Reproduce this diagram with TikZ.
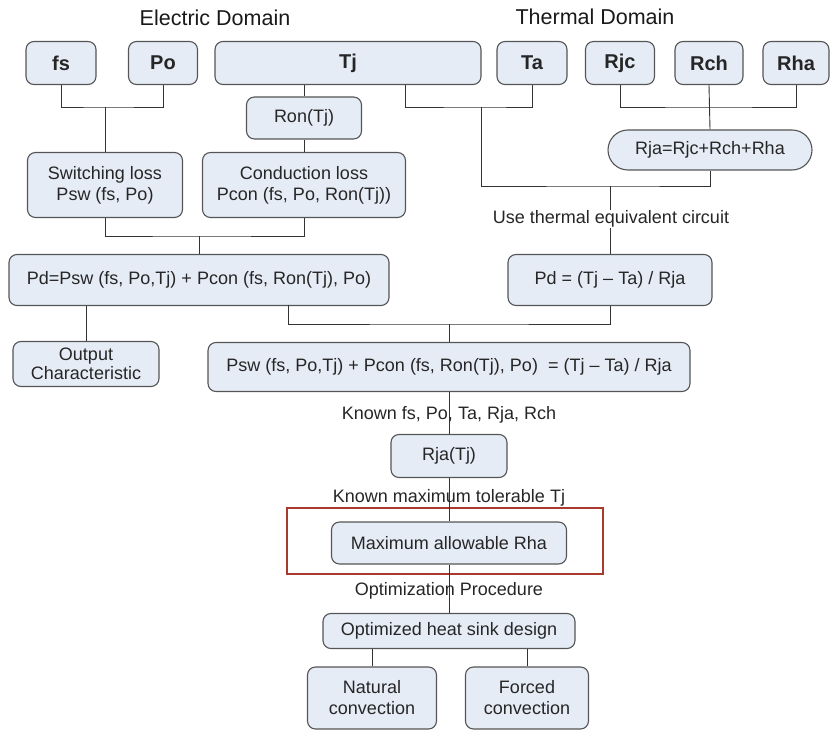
\documentclass[tikz,border=0pt]{standalone}
\usepackage{fontspec}
\setmainfont{Liberation Sans}
\usetikzlibrary{positioning}
\definecolor{boxfill}{HTML}{E6ECF6}
\definecolor{boxline}{HTML}{555555}
\definecolor{hlred}{HTML}{A83A2E}

\begin{document}
\begin{tikzpicture}[
  x=1pt, y=-1pt,
  box/.style={draw=boxline, fill=boxfill, rounded corners=8pt, line width=1.1pt,
              inner sep=0pt, align=center, font=\fontsize{18}{21}\selectfont, text=black!85},
  topbox/.style={box, minimum height=43pt, font=\fontsize{20}{24}\selectfont\bfseries},
  lbl/.style={font=\fontsize{18}{21}\selectfont, text=black!85, inner sep=1pt},
  title/.style={font=\fontsize{21.5}{24}\selectfont, text=black!90},
  wire/.style={draw=black!80, line width=0.9pt},
]
\useasboundingbox (0,0) rectangle (830,730);

% Domain titles
\node[title] (eltitle) at (215,18) {Electric Domain};
\node[title] (thtitle) at (595,17) {Thermal Domain};

% Input parameters
\node[topbox, minimum width=70pt] (fs) at (61,63) {fs};
\node[topbox, minimum width=69pt] (po) at (163,63) {Po};
\node[topbox, minimum width=266pt] (tj) at (348,63) {Tj};
\node[topbox, minimum width=70pt] (ta) at (532,63) {Ta};
\node[topbox, minimum width=69pt] (rjc) at (620,63) {Rjc};
\node[topbox, minimum width=68pt] (rch) at (709,63) {Rch};
\node[topbox, minimum width=66pt] (rha) at (796,63) {Rha};

% Loss models
\node[box, minimum width=115pt, minimum height=42pt] (ron) at (304,118) {Ron(Tj)};
\node[box, minimum width=155pt, minimum height=65pt] (swl) at (105,185) {Switching loss\\Psw (fs, Po)};
\node[box, minimum width=203pt, minimum height=65pt] (con) at (304,185) {Conduction loss\\Pcon (fs, Po, Ron(Tj))};
\node[box, minimum width=204pt, minimum height=40pt, rounded corners=20pt] (rja) at (710,150) {Rja=Rjc+Rch+Rha};

% Power balance
\node[box, minimum width=380pt, minimum height=51pt] (pde) at (199,280) {Pd=Psw (fs, Po,Tj) + Pcon (fs, Ron(Tj), Po)};
\node[box, minimum width=204pt, minimum height=51pt] (pdt) at (610,280) {Pd = (Tj -- Ta) / Rja};
\node[box, minimum width=146pt, minimum height=45pt] (out) at (86,364) {Output\\[-2pt]Characteristic};
\node[box, minimum width=482pt, minimum height=49pt] (eq) at (449,367) {Psw (fs, Po,Tj) + Pcon (fs, Ron(Tj), Po) \ = (Tj -- Ta) / Rja};

% Highlight frame
\draw[hlred, line width=2.6pt] (287,508) rectangle (603,574);

% Design chain
\node[box, minimum width=116pt, minimum height=43pt] (rjatj) at (449,456) {Rja(Tj)};
\node[box, minimum width=235pt, minimum height=42pt] (maxr) at (449,543) {Maximum allowable Rha};
\node[box, minimum width=252pt, minimum height=35pt] (opt) at (449,631) {Optimized heat sink design};
\node[box, minimum width=129pt, minimum height=62pt] (nat) at (372,698) {Natural\\convection};
\node[box, minimum width=123pt, minimum height=62pt] (frc) at (527,698) {Forced\\convection};

% Junctions
\coordinate (jfp) at (105,107);
\coordinate (tjout) at (405,85);
\coordinate (jtt) at (481,107);
\coordinate (jth) at (610,186);
\coordinate (jr) at (709,107);
\coordinate (jpe) at (199,236);
\coordinate (pdeout) at (288,305);
\coordinate (jeq) at (449,324);

% Connectors
\draw[wire] (fs.south) |- (jfp) -| (po.south);
\draw[wire] (jfp) -- (swl.north);
\draw[wire] (tj.south -| ron.north) -- (ron.north);
\draw[wire] (ron.south) -- (con.north);
\draw[wire] (tjout) |- (jtt) -| (ta.south);
\draw[wire] (jtt) |- (jth) -| (rja.south);
\draw[wire] (rjc.south) |- (jr) -| (rha.south);
\draw[wire] (rch.south) -- (rja.north);
\draw[wire] (jth) -- (pdt.north);
\draw[wire] (swl.south) |- (jpe) -| (con.south);
\draw[wire] (jpe) -- (pde.north);
\draw[wire] (pde.south -| out.north) -- (out.north);
\draw[wire] (pdeout) |- (jeq) -| (pdt.south);
\draw[wire] (jeq) -- (eq.north);
\draw[wire] (eq.south) -- (rjatj.north);
\draw[wire] (rjatj.south) -- (maxr.north);
\draw[wire] (maxr.south) -- (opt.north);
\draw[wire] (opt.south -| nat.north) -- (nat.north);
\draw[wire] (opt.south -| frc.north) -- (frc.north);

% Step labels
\node[lbl, fill=white] (uselbl) at (611,219) {Use thermal equivalent circuit};
\node[lbl] (knownlbl) at (449,415) {Known fs, Po, Ta, Rja, Rch};
\node[lbl] (tjmaxlbl) at (449,498) {Known maximum tolerable Tj};
\node[lbl] (optlbl) at (449,591) {Optimization Procedure};

\end{tikzpicture}
\end{document}
